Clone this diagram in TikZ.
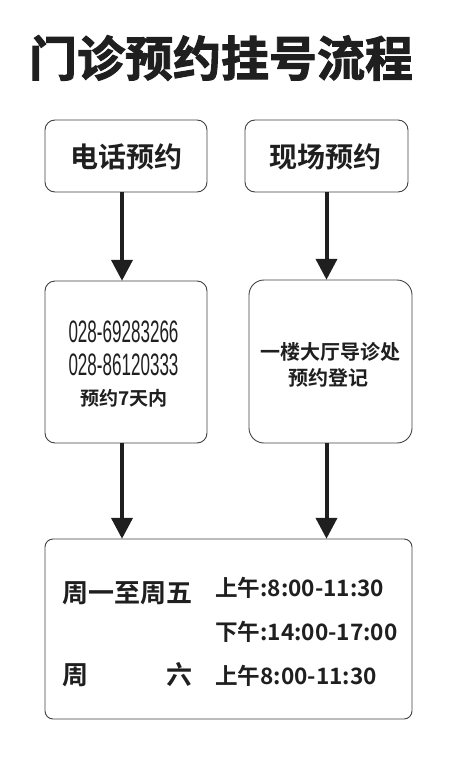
\documentclass[tikz,border=0pt]{standalone}
\usepackage{fontspec}
\usetikzlibrary{arrows.meta}
\setmainfont{Noto Sans CJK SC}[BoldFont={* Bold}]
\newfontfamily\cjkb{Noto Sans CJK SC Bold}
\newfontfamily\titlefont{Noto Sans CJK SC Bold}[FakeBold=2]
\newfontfamily\phonefont{Liberation Sans}[FakeStretch=0.55]
\tikzset{
  box/.style={draw=black!75, line width=0.9pt, rounded corners=10pt},
  arr/.style={line width=4pt, draw=black!88, -{Triangle[width=21pt,length=21pt]}},
  lbl/.style={inner sep=0pt, text=black!88},
}
\begin{document}
\begin{tikzpicture}[x=1pt,y=-1pt]
\useasboundingbox (0,0) rectangle (462,760);
% title
\node[lbl] (title) at (221,58) {\titlefont\fontsize{48}{48}\selectfont 门诊预约挂号流程};
% boxes
\draw[box] (45,120) rectangle (207,192);
\node (b1) at (126,156) [minimum width=162pt, minimum height=72pt, inner sep=0pt] {};
\node[lbl] (t1) at (126,157) {\cjkb\fontsize{28}{28}\selectfont 电话预约};
\draw[box] (245,120) rectangle (408,192);
\node (b2) at (326.5,156) [minimum width=163pt, minimum height=72pt, inner sep=0pt] {};
\node[lbl] (t2) at (325,157) {\cjkb\fontsize{28}{28}\selectfont 现场预约};

\draw[box] (45,281) rectangle (207,443);
\node (b3) at (126,362) [minimum width=162pt, minimum height=162pt, inner sep=0pt] {};
\node[lbl] (p1) at (123.5,332) {\phonefont\fontsize{31}{31}\selectfont 028-69283266};
\node[lbl] (p2) at (123.5,365) {\phonefont\fontsize{31}{31}\selectfont 028-86120333};
\node[lbl] (p3) at (124,398) {\cjkb\fontsize{19}{19}\selectfont 预约7天内};

\draw[box, rounded corners=15pt] (249,280) rectangle (412,443);
\node (b4) at (330.5,361.5) [minimum width=163pt, minimum height=163pt, inner sep=0pt] {};
\node[lbl] (q1) at (330,352) {\cjkb\fontsize{20}{20}\selectfont 一楼大厅导诊处};
\node[lbl] (q2) at (328,378) {\cjkb\fontsize{20}{20}\selectfont 预约登记};

\draw[box, rounded corners=8pt] (45,539) rectangle (412,719);
\node (b5) at (228.5,629) [minimum width=367pt, minimum height=180pt, inner sep=0pt] {};
\node[lbl, anchor=west] (w1) at (62,593) {\cjkb\fontsize{26}{26}\selectfont 周一至周五};
\node[lbl, anchor=west] (w2) at (62,675) {\cjkb\fontsize{26}{26}\selectfont 周};
\node[lbl, anchor=east] (w3) at (193,675) {\cjkb\fontsize{26}{26}\selectfont 六};
\node[lbl, anchor=west] (h1) at (215,588) {\cjkb\fontsize{22.6}{22.6}\selectfont 上午:8:00-11:30};
\node[lbl, anchor=west] (h2) at (215,632) {\cjkb\fontsize{22.6}{22.6}\selectfont 下午:14:00-17:00};
\node[lbl, anchor=west] (h3) at (215,676) {\cjkb\fontsize{22.6}{22.6}\selectfont 上午8:00-11:30};

% arrows
\draw[arr] ([xshift=-4pt]b1.south) -- ([xshift=-4pt]b3.north);
\draw[arr] (b2.south) -- (b2.south |- b4.north);
\draw[arr] ([xshift=-4pt]b3.south) -- ([xshift=-4pt]b3.south |- b5.north);
\draw[arr] (b4.south -| b2.south) -- (b2.south |- b5.north);
\end{tikzpicture}
\end{document}
